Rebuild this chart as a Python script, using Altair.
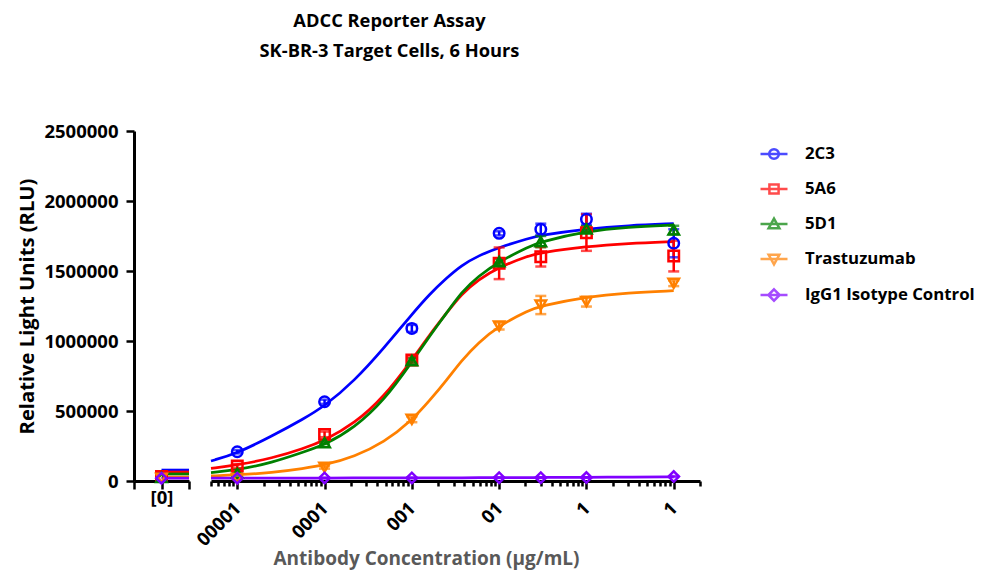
import json
import altair as alt
import pandas as pd

# ---------------- data ----------------
series = ["2C3", "5A6", "5D1", "Trastuzumab", "IgG1 Isotype Control"]
colors = ["#0000FF", "#FF0000", "#008000", "#FF8000", "#8000FF"]
marker_shapes = ["circle", "square", "triangle-up", "triangle-down", "diamond"]
legend_shapes = [
    "M-1,0H1M-0.36,0A0.36,0.36,0,1,1,0.36,0A0.36,0.36,0,1,1,-0.36,0Z",
    "M-1,0H1M-0.34,-0.34H0.34V0.34H-0.34Z",
    "M-1,0H1M0,-0.4L0.4,0.32H-0.4Z",
    "M-1,0H1M-0.4,-0.32H0.4L0,0.4Z",
    "M-1,0H1M0,-0.42L0.42,0L0,0.42L-0.42,0Z",
]

conc = [1e-5, 1e-4, 1e-3, 1e-2, 3e-2, 1e-1, 1.0]
mean_2c3 = [209000, 566000, 1090000, 1769000, 1798000, 1869000, 1698000]
err_2c3 = [12000, 15000, 25000, 15000, 40000, 40000, 100000]
mean_5a6 = [107000, 333000, 864000, 1555000, 1602000, 1774000, 1607000]
err_5a6 = [15000, 20000, 20000, 113000, 70000, 130000, 110000]
mean_5d1 = [55000, 274000, 860000, 1567000, 1710000, 1800000, 1793000]
err_5d1 = [8000, 10000, 15000, 20000, 40000, 20000, 30000]
mean_tras = [18000, 98000, 440000, 1107000, 1257000, 1281000, 1412000]
err_tras = [4000, 10000, 20000, 25000, 65000, 35000, 20000]
mean_igg = [20000, 22000, 22000, 24000, 24000, 25000, 32000]
err_igg = [2000, 2000, 2000, 2000, 2000, 2000, 3000]

# value at the "[0]" (no antibody) position and the fitted bottom plateau drawn there
zero_mean = [30000, 32000, 26000, 20000, 20000]
zero_fit = [78000, 64000, 50000, 28000, 20000]

# fitted curves
fit_conc = [5e-6, 1e-5, 2.5e-5, 5.8e-5, 1e-4, 2.2e-4, 4.8e-4, 1e-3, 1.6e-3,
            2.5e-3, 3.7e-3, 5.8e-3, 1e-2, 2.2e-2, 3e-2, 0.1, 0.3, 1.0]
fit_2c3 = [143000, 198000, 321000, 445000, 535000, 715000, 950000, 1190000, 1335000,
           1450000, 1540000, 1610000, 1668000, 1735000, 1755000, 1800000, 1825000, 1838000]
fit_5a6 = [90000, 114000, 162000, 233000, 290000, 410000, 600000, 864000, 1045000,
           1200000, 1335000, 1440000, 1528000, 1610000, 1632000, 1675000, 1697000, 1710000]
fit_5d1 = [60000, 79000, 131000, 209000, 257000, 380000, 575000, 850000, 1035000,
           1200000, 1350000, 1465000, 1567000, 1675000, 1708000, 1785000, 1815000, 1829000]
fit_tras = [36000, 43000, 60000, 90000, 114000, 174000, 275000, 433000, 575000,
            720000, 860000, 990000, 1110000, 1221000, 1250000, 1317000, 1345000, 1359000]
fit_igg = [20000, 20000, 21000, 21000, 21000, 22000, 22000, 22000, 23000,
           23000, 23000, 24000, 24000, 25000, 25000, 26000, 28000, 30000]

major_ticks = [1e-5, 1e-4, 1e-3, 1e-2, 1e-1, 1.0]
tick_labels = ["00001", "0001", "001", "01", "1", "1"]
y_ticks = [0, 500000, 1000000, 1500000, 2000000, 2500000]

# ---------------- tables ----------------
means = [mean_2c3, mean_5a6, mean_5d1, mean_tras, mean_igg]
errs = [err_2c3, err_5a6, err_5d1, err_tras, err_igg]
fits = [fit_2c3, fit_5a6, fit_5d1, fit_tras, fit_igg]

pts_rows, fit_rows, zpt_rows, zfit_rows = [], [], [], []
for i, s in enumerate(series):
    for c, m, e in zip(conc, means[i], errs[i]):
        pts_rows.append({"series": s, "order": i, "conc": c, "rlu": m, "lo": m - e, "hi": m + e})
    for c, v in zip(fit_conc, fits[i]):
        fit_rows.append({"series": s, "order": i, "conc": c, "rlu": v})
    zpt_rows.append({"series": s, "order": i, "pos": 0, "rlu": zero_mean[i]})
    zfit_rows.append({"series": s, "order": i, "pos": 0, "rlu": zero_fit[i]})
    zfit_rows.append({"series": s, "order": i, "pos": 1, "rlu": zero_fit[i]})

pts = pd.DataFrame(pts_rows)
fit = pd.DataFrame(fit_rows)
zpts = pd.DataFrame(zpt_rows)
zfit = pd.DataFrame(zfit_rows)

FONT = "Open Sans"
H = 350

minor_ticks = [m * 10 ** e for e in range(-6, 1) for m in range(2, 10)
               if 5e-6 * 0.999 <= m * 10 ** e <= 2.0001]
all_ticks = sorted(major_ticks + minor_ticks)
mj = json.dumps(major_ticks)
lb = json.dumps(tick_labels)
label_expr = f"indexof({mj}, datum.value) >= 0 ? {lb}[indexof({mj}, datum.value)] : ''"
tick_size = {"condition": {"test": f"indexof({mj}, datum.value) >= 0", "value": 8}, "value": 5}

ycale = alt.Scale(domain=[0, 2500000], nice=False, zero=False)
color_scale = alt.Scale(domain=series, range=colors)
shape_scale = alt.Scale(domain=series, range=marker_shapes)

x_main = alt.X(
    "conc:Q",
    scale=alt.Scale(type="log", domain=[5e-6, 2.0], nice=False),
    axis=alt.Axis(
        values=all_ticks, labelExpr=label_expr, tickSize=tick_size,
        labelAngle=315, labelAlign="right", labelBaseline="middle",
        labelPadding=16, labelOverlap=False, labelFlush=False,
        title="Antibody Concentration (µg/mL)", titleColor="#595959",
        titlePadding=0, titleX=215, titleFontSize=19,
    ),
)
y_main = alt.Y("rlu:Q", scale=ycale, axis=None)
col = alt.Color("series:N", scale=color_scale, legend=None)

base = alt.Chart(fit)
lines = base.mark_line(strokeWidth=2.75, interpolate="basis").encode(
    x=x_main, y=y_main, color=col, detail="series:N", order="conc:Q")

pbase = alt.Chart(pts)
bars = pbase.mark_rule(strokeWidth=2.5).encode(
    x=x_main, y=alt.Y("lo:Q", scale=ycale, axis=None), y2="hi:Q", color=col)
cap_lo = pbase.mark_tick(orient="horizontal", size=11, thickness=2.5).encode(
    x=x_main, y=alt.Y("lo:Q", scale=ycale, axis=None), color=col)
cap_hi = pbase.mark_tick(orient="horizontal", size=11, thickness=2.5).encode(
    x=x_main, y=alt.Y("hi:Q", scale=ycale, axis=None), color=col)
points = pbase.mark_point(filled=False, strokeWidth=2.5, size=110, opacity=1).encode(
    x=x_main, y=y_main, color=col,
    shape=alt.Shape("series:N", scale=shape_scale, legend=None))

leg = alt.Legend(
    title=None, orient="none", legendX=548, legendY=8, padding=0,
    symbolSize=729, symbolStrokeWidth=2.5, rowPadding=10,
    labelFont=FONT, labelFontWeight="bold", labelFontSize=16.8, labelColor="black",
    labelOffset=16, labelLimit=0, symbolFillColor="white",
)
legend_layer = pbase.transform_filter("false").mark_point(filled=False, strokeWidth=2.5).encode(
    x=x_main, y=y_main,
    color=alt.Color("series:N", scale=color_scale, legend=leg),
    shape=alt.Shape("series:N", scale=alt.Scale(domain=series, range=legend_shapes), legend=leg),
)

main = alt.layer(lines, bars, cap_lo, cap_hi, points, legend_layer).resolve_scale(
    color="independent", shape="independent").properties(width=489, height=H)

# ---------------- "[0]" panel ----------------
x_zero = alt.X(
    "pos:Q", scale=alt.Scale(domain=[-1, 1], nice=False, zero=False),
    axis=alt.Axis(values=[-1, 0, 1], labelExpr="datum.value == 0 ? '[0]' : ''",
                  tickSize=8, labelAngle=0, labelAlign="center", labelBaseline="top",
                  labelPadding=-1, title=None, labelFlush=False),
)
y_zero = alt.Y(
    "rlu:Q", scale=ycale,
    axis=alt.Axis(values=y_ticks, format="d", tickSize=8, labelPadding=8,
                  title="Relative Light Units (RLU)", titlePadding=6, titleFontSize=20.2),
)
zlines = alt.Chart(zfit).mark_line(strokeWidth=2.75).encode(
    x=x_zero, y=y_zero, color=col, detail="series:N")
zpoints = alt.Chart(zpts).mark_point(filled=False, strokeWidth=2.5, size=110, opacity=1).encode(
    x=x_zero, y=y_zero, color=col,
    shape=alt.Shape("series:N", scale=shape_scale, legend=None))
zero = alt.layer(zlines, zpoints).properties(width=55, height=H)

chart = alt.hconcat(zero, main, spacing=22, bounds="flush").resolve_scale(
    color="independent", shape="independent"
).properties(
    title=alt.TitleParams(
        text=["ADCC Reporter Assay", "SK-BR-3 Target Cells, 6 Hours"],
        font=FONT, fontSize=18.3, fontWeight="bold", color="black",
        lineHeight=30, anchor="middle", dx=-107, offset=61,
    ),
    padding={"left": 9, "top": 3, "right": 0, "bottom": 3},
).configure_view(stroke=None).configure_axis(
    domainColor="black", domainWidth=3, tickColor="black", tickWidth=2.5,
    labelFont=FONT, labelFontWeight="bold", labelFontSize=18.5, labelColor="black",
    titleFont=FONT, titleFontWeight="bold", titleColor="black", grid=False,
)

chart.save("out.html", embed_options={"renderer": "svg", "actions": False})
